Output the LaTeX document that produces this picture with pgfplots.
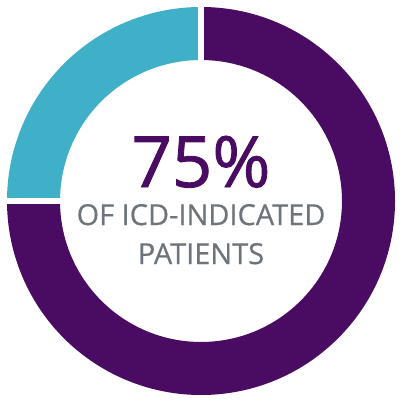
\documentclass[border=0pt]{standalone}
\usepackage{fontspec}
\setmainfont{Open Sans}
\newfontfamily\semifont{Open Sans}[FakeBold=1.2]
\newfontfamily\midfont{Open Sans}[FakeBold=0.5]
\usepackage{pgfplots}
\usepackage{pgfplotstable}
\pgfplotsset{compat=1.18}

\definecolor{donutpurple}{HTML}{4A0B62}
\definecolor{donutteal}{HTML}{40B0C8}
\definecolor{labelgray}{HTML}{6D747A}

\pgfplotstableread{
label value
ICD 75
Other 25
}\donutdata

\pgfplotstablegetelem{0}{value}\of\donutdata
\edef\valA{\pgfplotsretval}
\pgfplotstablegetelem{1}{value}\of\donutdata
\edef\valB{\pgfplotsretval}
\pgfmathsetmacro\angA{90-3.6*\valA}
\pgfmathsetmacro\angB{\angA-3.6*\valB}
\def\Rout{4.826cm}
\def\Rin{3.507cm}

\begin{document}
\begin{tikzpicture}
\begin{axis}[
  scale only axis, width=10cm, height=10cm,
  xmin=-1.036, xmax=1.036, ymin=-1.036, ymax=1.036,
  hide axis, clip=false,
]
\coordinate (c) at (axis cs:0,0.005);
% purple share, clockwise from the top
\fill[donutpurple] ([shift={(90:\Rout)}]c) arc[start angle=90, end angle=\angA, radius=\Rout]
  -- ([shift={(\angA:\Rin)}]c) arc[start angle=\angA, end angle=90, radius=\Rin] -- cycle;
% teal share
\fill[donutteal] ([shift={(\angA:\Rout)}]c) arc[start angle=\angA, end angle=\angB, radius=\Rout]
  -- ([shift={(\angB:\Rin)}]c) arc[start angle=\angB, end angle=\angA, radius=\Rin] -- cycle;
% white gaps between the slices
\draw[white, line width=0.15cm] ([shift={(90:3.3cm)}]c) -- ([shift={(90:\Rout)}]c);
\draw[white, line width=0.15cm] ([shift={(\angA:3.3cm)}]c) -- ([shift={(\angA:\Rout)}]c);
\node[anchor=base, text=donutpurple, font=\semifont\fontsize{50}{52}\selectfont] at (axis cs:0,0.077) {75\%};
\node[anchor=base, text=labelgray, font=\midfont\fontsize{20.5}{22}\selectfont] at (axis cs:0,-0.119) {OF ICD-INDICATED};
\node[anchor=base, text=labelgray, font=\midfont\fontsize{20.5}{22}\selectfont] at (axis cs:0,-0.320) {PATIENTS};
\end{axis}
\pgfresetboundingbox
\path ([shift={(-5cm,-5cm)}]c) rectangle ([shift={(5cm,5cm)}]c);
\end{tikzpicture}
\end{document}
